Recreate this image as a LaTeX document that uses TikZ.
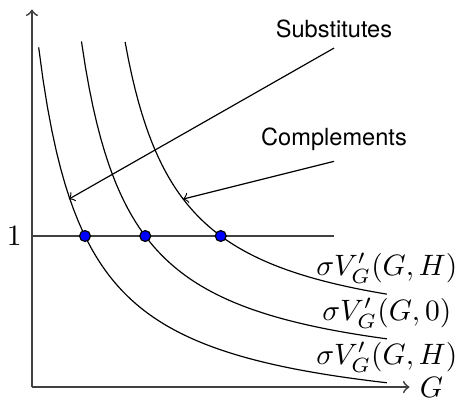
\documentclass[tikz,border=0pt]{standalone}
\usepackage{fontspec}
\newfontfamily\helv{TeX Gyre Heros}
\tikzset{
  axis/.style={semithick,draw=black!75,->},
  level/.style={semithick,draw=black!75},
  curve/.style={thin,draw=black},
  pointer/.style={thin,draw=black,->},
  eqpt/.style={circle,fill=blue,draw=black,inner sep=0pt,minimum size=3.7pt},
  tag/.style={font=\helv\footnotesize}
}
\begin{document}
\begin{tikzpicture}
  \useasboundingbox (-0.381,-0.143) rectangle (5.066,4.613);
  \coordinate (O) at (0,0);
  \coordinate (X) at (4.5,0);
  \coordinate (Y) at (0,4.5);
  \coordinate (L) at (0,1.8);
  \coordinate (R) at (3.6,1.8);

  \draw[axis] (O)--(X);
  \draw[axis] (O)--(Y);
  \draw[level] (L)--(R);

  % marginal valuation curves
  \draw[curve] plot[domain=0.08:4.23,samples=80] (\x,{-0.49+2.55/(\x+0.482)})
    node[above] (lowlab) {$\sigma V'_G(G,H)$};
  \draw[curve] plot[domain=0.59:4.23,samples=80] (\x,{2.43/\x})
    node[above] (midlab) {$\sigma V'_G(G,0)$};
  \draw[curve] plot[domain=1.11:4.23,samples=80] (\x,{0.48+2.365/(\x-0.459)})
    node[above] (toplab) {$\sigma V'_G(G,H)$};

  \coordinate (s) at (0.44,2.24);
  \coordinate (c) at (1.8,2.24);
  \node[tag,above] (subs) at (3.6,4.04) {Substitutes};
  \node[tag,above] (comp) at (3.6,2.69) {Complements};
  \draw[pointer] (subs.south)--(s);
  \draw[pointer] (comp.south)--(c);

  \node[eqpt] (e1) at (0.632,1.8) {};
  \node[eqpt] (e2) at (1.35,1.8) {};
  \node[eqpt] (e3) at (2.25,1.8) {};
  \node[left] (one) at (L) {$1$};
  \node[right] (glab) at (X) {$G$};
\end{tikzpicture}
\end{document}
